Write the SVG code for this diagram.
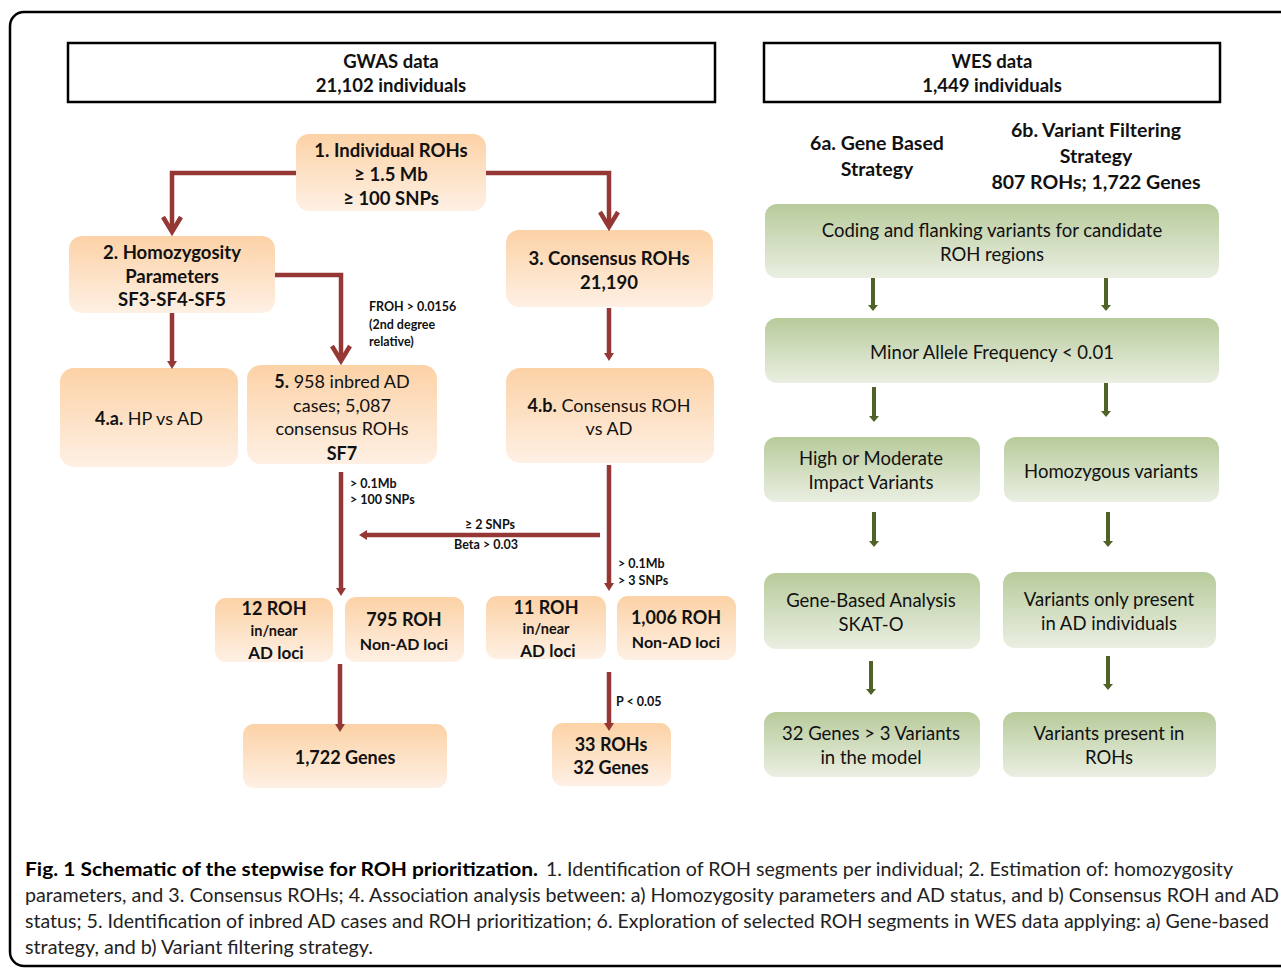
<svg xmlns="http://www.w3.org/2000/svg" width="1281" height="968" viewBox="0 0 1281 968">
<defs>
<linearGradient id="og" x1="0" y1="0" x2="0" y2="1"><stop offset="0" stop-color="#FCD2A6"/><stop offset="1" stop-color="#FEF0E4"/></linearGradient>
<linearGradient id="gg" x1="0" y1="0" x2="0" y2="1"><stop offset="0" stop-color="#B8CB9B"/><stop offset="1" stop-color="#EAEFE2"/></linearGradient>
<marker id="rh" markerUnits="userSpaceOnUse" markerWidth="12" markerHeight="12" refX="0" refY="5" orient="auto"><path d="M0,0 L8,5 L0,10 z" fill="#953735"/></marker>
<marker id="gh" markerUnits="userSpaceOnUse" markerWidth="12" markerHeight="12" refX="0" refY="5" orient="auto"><path d="M0,0 L6,5 L0,10 z" fill="#4F6228"/></marker>
</defs>
<style>
text{font-family:Lato,"Liberation Sans",sans-serif;fill:#111;dominant-baseline:central;text-anchor:middle}
.b{font-weight:bold}
.hd{font-size:18.5px;font-weight:bold}
.h6{font-size:19.5px;font-weight:bold}
.o{fill:url(#og)}
.g{fill:url(#gg)}
.t17{font-size:17px}
.t18{font-size:18px}
.gt{font-size:18.5px}
.sm{font-size:12.5px;font-weight:bold;text-anchor:start}
.red{stroke:#953735;stroke-width:4.5;fill:none}
.grn{stroke:#4F6228;stroke-width:4;fill:none}
.cap{font-size:19px;text-anchor:start;fill:#222}
</style>
<rect x="10" y="12" width="1300" height="954" rx="14" fill="#fff" stroke="#000" stroke-width="2.5"/>

<g id="gwas"><rect x="68" y="43" width="647" height="59" fill="#fff" stroke="#000" stroke-width="2.5"/><text x="391" y="61" class="hd">GWAS data</text><text x="391" y="85" class="hd">21,102 individuals</text></g>
<g id="wes"><rect x="764" y="43" width="456" height="59" fill="#fff" stroke="#000" stroke-width="2.5"/><text x="992" y="61" class="hd">WES data</text><text x="992" y="85" class="hd">1,449 individuals</text></g>

<g id="n1"><rect x="296" y="134" width="190" height="77" rx="13" class="o"/><text x="391" y="150" class="hd">1. Individual ROHs</text><text x="391" y="174" class="hd">≥ 1.5 Mb</text><text x="391" y="198" class="hd">≥ 100 SNPs</text></g>
<g id="n2"><rect x="69" y="236" width="206" height="77" rx="13" class="o"/><text x="172" y="252" class="hd">2. Homozygosity</text><text x="172" y="276" class="hd">Parameters</text><text x="172" y="299" class="hd">SF3-SF4-SF5</text></g>
<g id="n3"><rect x="506" y="230" width="207" height="77" rx="13" class="o"/><text x="609" y="258" class="hd">3. Consensus ROHs</text><text x="609" y="282" class="hd">21,190</text></g>
<g id="n4a"><rect x="60" y="368" width="178" height="99" rx="14" class="o"/><text x="149" y="418" class="t18"><tspan class="b">4.a.</tspan> HP vs AD</text></g>
<g id="n5"><rect x="247" y="365" width="190" height="99" rx="14" class="o"/><text x="342" y="381" class="t18"><tspan class="b">5.</tspan> 958 inbred AD</text><text x="342" y="405" class="t18">cases; 5,087</text><text x="342" y="428" class="t18">consensus ROHs</text><text x="342" y="453" class="t18 b">SF7</text></g>
<g id="n4b"><rect x="506" y="368" width="208" height="95" rx="14" class="o"/><text x="609" y="405" class="t18"><tspan class="b">4.b.</tspan> Consensus ROH</text><text x="609" y="428" class="t18">vs AD</text></g>
<g id="n12"><rect x="215" y="598" width="118" height="64" rx="11" class="o"/><text x="274" y="608" class="t18 b">12 ROH</text><text x="274" y="630" class="b" style="font-size:14.5px">in/near</text><text x="276" y="652" class="t17 b">AD loci</text></g>
<g id="n795"><rect x="345" y="597" width="119" height="65" rx="11" class="o"/><text x="404" y="619" class="t18 b">795 ROH</text><text x="404" y="643" class="b" style="font-size:16px">Non-AD loci</text></g>
<g id="n11"><rect x="486" y="596" width="120" height="63" rx="11" class="o"/><text x="546" y="607" class="t18 b">11 ROH</text><text x="546" y="628" class="b" style="font-size:14.5px">in/near</text><text x="548" y="650" class="t17 b">AD loci</text></g>
<g id="n1006"><rect x="617" y="596" width="119" height="64" rx="11" class="o"/><text x="676" y="617" class="t18 b">1,006 ROH</text><text x="676" y="641" class="b" style="font-size:16px">Non-AD loci</text></g>
<g id="n1722"><rect x="243" y="724" width="204" height="64" rx="11" class="o"/><text x="345" y="757" class="t18 b">1,722 Genes</text></g>
<g id="n33"><rect x="552" y="723" width="119" height="63" rx="11" class="o"/><text x="611" y="744" class="t18 b">33 ROHs</text><text x="611" y="767" class="t18 b">32 Genes</text></g>

<g id="h6a"><text x="877" y="142" class="h6">6a. Gene Based</text><text x="877" y="168" class="h6">Strategy</text></g>
<g id="h6b"><text x="1096" y="129" class="h6">6b. Variant Filtering</text><text x="1096" y="155" class="h6">Strategy</text><text x="1096" y="181" class="h6">807 ROHs; 1,722 Genes</text></g>

<g id="gA"><rect x="765" y="204" width="454" height="74" rx="12" class="g"/><text x="992" y="230" class="gt">Coding and flanking variants for candidate</text><text x="992" y="254" class="gt">ROH regions</text></g>
<g id="gB"><rect x="765" y="318" width="454" height="65" rx="12" class="g"/><text x="992" y="352" class="gt">Minor Allele Frequency &lt; 0.01</text></g>
<g id="gC"><rect x="764" y="437" width="216" height="65" rx="12" class="g"/><text x="871" y="458" class="gt">High or Moderate</text><text x="871" y="482" class="gt">Impact Variants</text></g>
<g id="gD"><rect x="1004" y="437" width="215" height="65" rx="12" class="g"/><text x="1111" y="471" class="gt">Homozygous variants</text></g>
<g id="gE"><rect x="764" y="573" width="216" height="76" rx="12" class="g"/><text x="871" y="600" class="gt">Gene-Based Analysis</text><text x="871" y="624" class="gt">SKAT-O</text></g>
<g id="gF"><rect x="1003" y="572" width="213" height="76" rx="12" class="g"/><text x="1109" y="599" class="gt">Variants only present</text><text x="1109" y="623" class="gt">in AD individuals</text></g>
<g id="gG"><rect x="764" y="712" width="216" height="65" rx="12" class="g"/><text x="871" y="733" class="gt">32 Genes &gt; 3 Variants</text><text x="871" y="757" class="gt">in the model</text></g>
<g id="gH"><rect x="1003" y="712" width="213" height="65" rx="12" class="g"/><text x="1109" y="733" class="gt">Variants present in</text><text x="1109" y="757" class="gt">ROHs</text></g>

<g id="connectors">
<path class="red" d="M296,173 H172 V231"/><polyline class="red" points="163,217 172,232 181,217"/>
<path class="red" d="M486,173 H609 V226"/><polyline class="red" points="600,212 609,227 618,212"/>
<path class="red" d="M275,275 H341 V360"/><polyline class="red" points="332,346 341,361 350,346"/>
<path class="red" d="M172,313 V361" marker-end="url(#rh)"/>
<path class="red" d="M609,308 V353" marker-end="url(#rh)"/>
<path class="red" d="M341,472 V588" marker-end="url(#rh)"/>
<path class="red" d="M609,465 V583" marker-end="url(#rh)"/>
<path class="red" d="M600,535 H367" marker-end="url(#rh)"/>
<path class="red" d="M340,664 V724" marker-end="url(#rh)"/>
<path class="red" d="M609,672 V723" marker-end="url(#rh)"/>
<text x="369" y="306" class="sm">FROH &gt; 0.0156</text>
<text x="369" y="324" class="sm">(2nd degree</text>
<text x="369" y="341" class="sm">relative)</text>
<text x="350" y="483" class="sm">&gt; 0.1Mb</text>
<text x="350" y="499" class="sm">&gt; 100 SNPs</text>
<text x="490" y="524" class="sm" style="text-anchor:middle">≥ 2 SNPs</text>
<text x="486" y="544" class="sm" style="text-anchor:middle">Beta &gt; 0.03</text>
<text x="618" y="563" class="sm">&gt; 0.1Mb</text>
<text x="618" y="580" class="sm">&gt; 3 SNPs</text>
<text x="616" y="701" class="sm">P &lt; 0.05</text>
<path class="grn" d="M873,278 V305" marker-end="url(#gh)"/>
<path class="grn" d="M1106,278 V305" marker-end="url(#gh)"/>
<path class="grn" d="M874,387 V416" marker-end="url(#gh)"/>
<path class="grn" d="M1106,383 V411" marker-end="url(#gh)"/>
<path class="grn" d="M874,512 V541" marker-end="url(#gh)"/>
<path class="grn" d="M1108,512 V541" marker-end="url(#gh)"/>
<path class="grn" d="M871,661 V689" marker-end="url(#gh)"/>
<path class="grn" d="M1108,656 V684" marker-end="url(#gh)"/>
</g>

<g id="caption">
<text x="25" y="868" class="cap b" style="fill:#000" textLength="513" lengthAdjust="spacingAndGlyphs">Fig. 1 Schematic of the stepwise for ROH prioritization.</text>
<text x="546" y="868" class="cap" textLength="687" lengthAdjust="spacingAndGlyphs">1. Identification of ROH segments per individual; 2. Estimation of: homozygosity</text>
<text x="25" y="894" class="cap" textLength="1254" lengthAdjust="spacingAndGlyphs">parameters, and 3. Consensus ROHs; 4. Association analysis between: a) Homozygosity parameters and AD status, and b) Consensus ROH and AD</text>
<text x="25" y="920" class="cap" textLength="1244" lengthAdjust="spacingAndGlyphs">status; 5. Identification of inbred AD cases and ROH prioritization; 6. Exploration of selected ROH segments in WES data applying: a) Gene-based</text>
<text x="25" y="946" class="cap" textLength="348" lengthAdjust="spacingAndGlyphs">strategy, and b) Variant filtering strategy.</text>
</g>
</svg>
